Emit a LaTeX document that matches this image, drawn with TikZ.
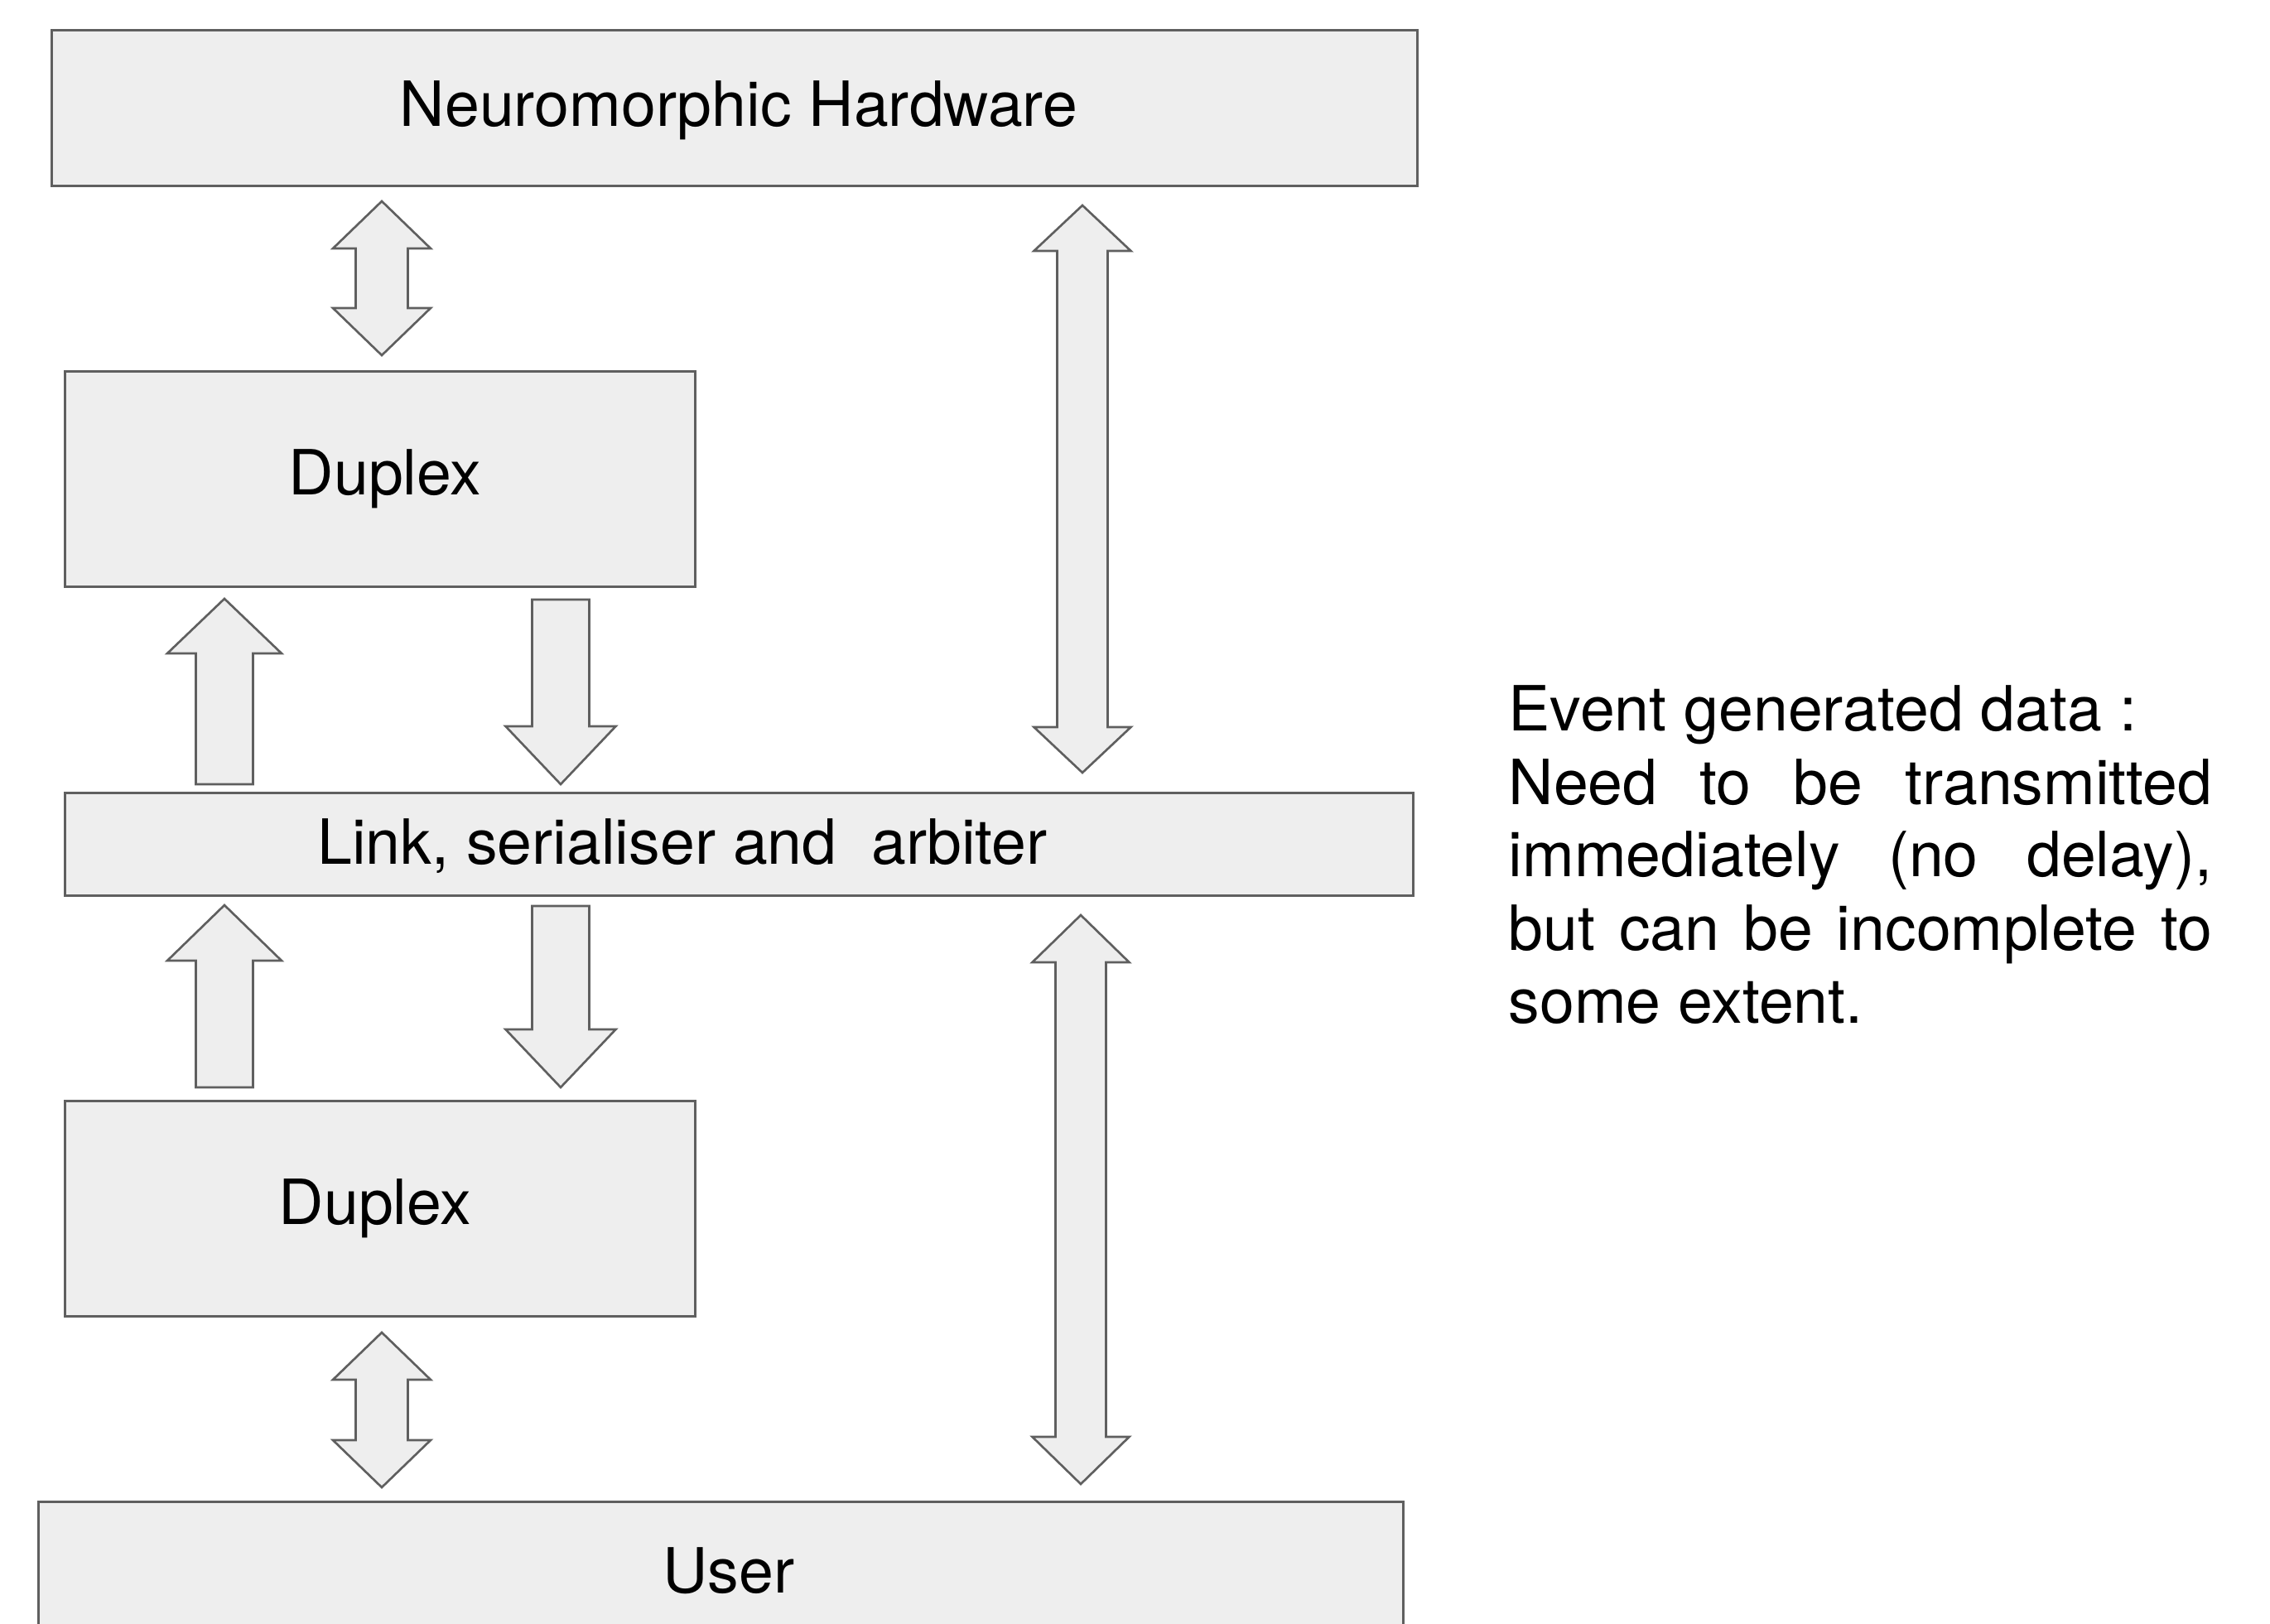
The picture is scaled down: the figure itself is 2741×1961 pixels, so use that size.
\documentclass[tikz,border=0pt]{standalone}
\usepackage{fontspec}
\setmainfont{TeX Gyre Heros}
\definecolor{lc}{HTML}{5F5F5F}
\definecolor{bg}{HTML}{EEEEEE}
% double-headed vertical block arrow: x, ytop, ybottom, head length, shaft half width, head half width
\newcommand\dblarr[6]{\draw[arr] (#1,#2) -- ({#1+#6},{#2+#4}) -- ({#1+#5},{#2+#4}) -- ({#1+#5},{#3-#4}) -- ({#1+#6},{#3-#4}) -- (#1,#3) -- ({#1-#6},{#3-#4}) -- ({#1-#5},{#3-#4}) -- ({#1-#5},{#2+#4}) -- ({#1-#6},{#2+#4}) -- cycle;}
% upward block arrow: x, ytip, ybase, head length, shaft half width, head half width
\newcommand\uparr[6]{\draw[arr] (#1,#2) -- ({#1+#6},{#2+#4}) -- ({#1+#5},{#2+#4}) -- ({#1+#5},#3) -- ({#1-#5},#3) -- ({#1-#5},{#2+#4}) -- ({#1-#6},{#2+#4}) -- cycle;}
% downward block arrow: x, ytop, ytip, head length, shaft half width, head half width
\newcommand\dnarr[6]{\draw[arr] (#1,#3) -- ({#1+#6},{#3-#4}) -- ({#1+#5},{#3-#4}) -- ({#1+#5},#2) -- ({#1-#5},#2) -- ({#1-#5},{#3-#4}) -- ({#1-#6},{#3-#4}) -- cycle;}
\begin{document}
\begin{tikzpicture}[x=0.01cm,y=-0.01cm,
  box/.style={draw=lc, fill=bg, line width=0.85pt, inner sep=0pt},
  arr/.style={draw=lc, fill=bg, line width=0.75pt, line join=miter},
  lbl/.style={inner sep=0pt, anchor=base, font=\fontsize{21.4}{25}\selectfont},
  note/.style={inner sep=0pt, anchor=base west, font=\fontsize{21.4}{25}\selectfont}]
\useasboundingbox (0,0) rectangle (2741,1961);
\clip (0,0) rectangle (2741,1961);
\fill[white] (0,0) rectangle (2741,1961);

% boxes
\node[box, minimum width=16.48cm, minimum height=1.87cm] (nh) at (887,130.5) {};
\node[box, minimum width=7.60cm, minimum height=2.59cm] (d1) at (459,578.5) {};
\node[box, minimum width=16.27cm, minimum height=1.23cm] (ln) at (892.5,1019.5) {};
\node[box, minimum width=7.60cm, minimum height=2.59cm] (d2) at (459,1459.5) {};
\node[box, minimum width=16.47cm, minimum height=2.2cm] (us) at (870.5,1924) {};

% box labels
\node[lbl] (tnh) at (892,153) {Neuromorphic Hardware};
\node[lbl] (td1) at (465,598) {Duplex};
\node[lbl] (tln) at (824,1043) {Link, serialiser and~ arbiter};
\node[lbl] (td2) at (453,1478) {Duplex};
\node[lbl] (tus) at (880,1923) {User};

% block arrows
\dblarr{461}{243}{429}{57}{31.5}{59}
\dblarr{1307}{248}{933}{55}{30.5}{58.5}
\uparr{271}{723}{947}{66}{34.5}{69}
\dnarr{677}{724}{947}{70}{34.5}{66.5}
\uparr{271}{1093}{1313}{67}{34.5}{69}
\dnarr{677}{1094}{1313}{70}{34.5}{66.5}
\dblarr{1305}{1105}{1792}{57}{30.5}{58.5}
\dblarr{461}{1609}{1796}{57}{31.5}{59}

% note
\node[note] (n1) at (1821,883) {Event generated data :};
\node[note] (n2) at (1821,971) {\makebox[8.49cm][s]{Need to be transmitted}};
\node[note] (n3) at (1821,1058) {\makebox[8.49cm][s]{immediately (no delay),}};
\node[note] (n4) at (1821,1147) {\makebox[8.49cm][s]{but can be incomplete to}};
\node[note] (n5) at (1821,1235) {some extent.};
\end{tikzpicture}
\end{document}
